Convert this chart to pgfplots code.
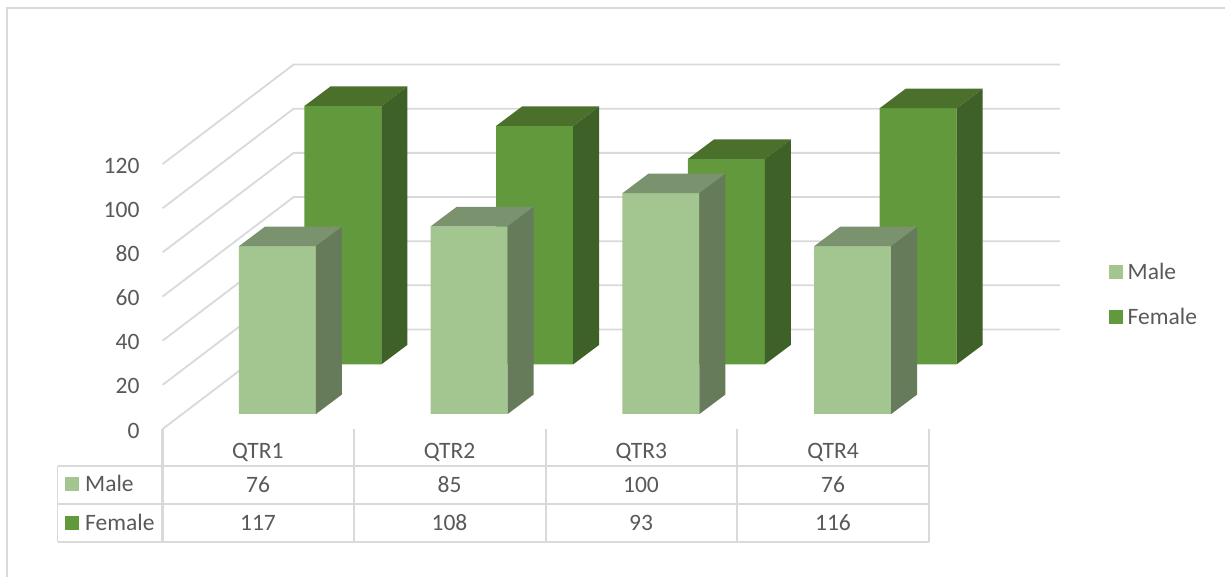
\documentclass[border=0pt]{standalone}
\usepackage{pgfplots}
\usepackage{pgfplotstable}
\usepackage{fontspec}
\setmainfont{Carlito}
\pgfplotsset{compat=1.18}
\definecolor{maleF}{HTML}{A3C58F}
\definecolor{maleS}{HTML}{657B5A}
\definecolor{maleT}{HTML}{7A926E}
\definecolor{femF}{HTML}{62993D}
\definecolor{femS}{HTML}{3E6127}
\definecolor{femT}{HTML}{4B702C}
\definecolor{gridc}{HTML}{D9D9D9}
\definecolor{txt}{HTML}{595959}
\newcommand{\chartfont}{\fontsize{23.5}{27}\selectfont}
\pgfplotstableread{
i male female
0 76 117
1 85 108
2 100 93
3 76 116
}\datatable
% side and top faces of a 3D bar: (#1 bar shift) drawn around the data point
\newcommand{\declarebox}[4]{%
  \pgfdeclareplotmark{#1}{%
    \pgfsetfillcolor{#3}%
    \pgfpathmoveto{\pgfpoint{#2pt-38.5pt}{0pt}}%
    \pgfpathlineto{\pgfpoint{#2pt+38.5pt}{0pt}}%
    \pgfpathlineto{\pgfpoint{#2pt+64.5pt}{19.5pt}}%
    \pgfpathlineto{\pgfpoint{#2pt-12.5pt}{19.5pt}}%
    \pgfpathclose\pgfusepathqfill
    \pgfsetfillcolor{#4}%
    \pgfpathmoveto{\pgfpoint{#2pt+38.5pt}{0pt}}%
    \pgfpathlineto{\pgfpoint{#2pt+64.5pt}{19.5pt}}%
    \pgfpathlineto{\pgfpoint{#2pt+64.5pt}{19.5pt-\barh pt}}%
    \pgfpathlineto{\pgfpoint{#2pt+38.5pt}{-\barh pt}}%
    \pgfpathclose\pgfusepathqfill
  }}
\declarebox{boxM}{19}{maleT}{maleS}
\declarebox{boxF}{84.5}{femT}{femS}
\pgfplotsset{
  base/.style={
    width=1225pt,height=577pt,scale only axis,at={(0pt,0pt)},anchor=south west,
    xmin=-1.34811,xmax=5.04042,
  },
  gl/.style={draw=gridc,line width=1.8pt,no markers,forget plot},
}
\begin{document}
\begin{tikzpicture}
\useasboundingbox (0,0) rectangle (1225pt,577pt);
% background: walls, grid, value axis, categories
\begin{axis}[base,ymin=-67.03,ymax=194.29,
  axis line style={draw=none},
  major tick length=0pt,
  ytick={0,20,...,120},
  xtick={0,1,2,3},
  xticklabels={QTR1,QTR2,QTR3,QTR4},
  /pgf/number format/assume math mode=true,
  tick label style={font=\chartfont,text=txt},
  yticklabel style={anchor=east,xshift=143pt,yshift=-1.5pt},
  xticklabel style={anchor=base,yshift=118pt,xshift=-0.7pt},
  legend image code/.code={\fill[#1] (0pt,-7pt) rectangle (14pt,7pt);},
  legend style={at={(1109pt,314pt)},anchor=north west,draw=none,fill=none,
    font=\chartfont,text=txt,row sep=27pt,inner sep=0pt,
    nodes={inner xsep=4.5pt,inner ysep=0pt}},
  legend cell align=left,
]
\addplot[gl] coordinates {(-0.5,0)(0.1832,45.06)(4.18,45.06)};
\addplot[gl] coordinates {(-0.5,20)(0.1832,65.06)(4.18,65.06)};
\addplot[gl] coordinates {(-0.5,40)(0.1832,85.06)(4.18,85.06)};
\addplot[gl] coordinates {(-0.5,60)(0.1832,105.06)(4.18,105.06)};
\addplot[gl] coordinates {(-0.5,80)(0.1832,125.06)(4.18,125.06)};
\addplot[gl] coordinates {(-0.5,100)(0.1832,145.06)(4.18,145.06)};
\addplot[gl] coordinates {(-0.5,120)(0.1832,165.06)(4.18,165.06)};
\addlegendimage{fill=maleF,draw=none}
\addlegendentry{Male}
\addlegendimage{fill=femF,draw=none}
\addlegendentry{Female}
\end{axis}
% Female series, rear row
\begin{axis}[base,hide axis,ymin=-96.33,ymax=164.99]
\addplot[ybar,bar width=77pt,bar shift=84.5pt,fill=femF,draw=none] table[x=i,y=female] {\datatable};
\addplot[only marks,scatter,point meta=y,mark=boxF,
  visualization depends on={\thisrow{female}*2.208 \as \barh}] table[x=i,y=female] {\datatable};
\end{axis}
% Male series, front row
\begin{axis}[base,hide axis,ymin=-73.82,ymax=187.5]
\addplot[ybar,bar width=77pt,bar shift=19pt,fill=maleF,draw=none] table[x=i,y=male] {\datatable};
\addplot[only marks,scatter,point meta=y,mark=boxM,
  visualization depends on={\thisrow{male}*2.208 \as \barh}] table[x=i,y=male] {\datatable};
\end{axis}
% data table and frame, in picture pixels
\begin{scope}[x=1pt,y=-1pt,yshift=577pt]
  \draw[gridc,line width=1.8pt] (7,577)--(7,8)--(1225,8);
  \draw[gridc,line width=1.8pt] (57.5,465.7)--(929,465.7) (57.5,504)--(929,504) (57.5,542.3)--(929,542.3);
  \draw[gridc,line width=1.8pt] (57.5,465.7)--(57.5,542.3);
  \draw[gridc,line width=2.4pt] (162.5,429)--(162.5,542.3);
  \foreach \x in {354,546,737,929} \draw[gridc,line width=1.8pt] (\x,429)--(\x,542.3);
  \fill[maleF] (65,477)rectangle(79,491);
  \fill[femF] (65,516)rectangle(79,530);
  \foreach \t/\y in {Male/492,Female/531}
    \node[anchor=base west,inner sep=0pt,font=\chartfont,text=txt] at (85,\y) {\t};
  \foreach \xc/\a/\b in {258/76/117,449.5/85/108,641/100/93,833/76/116}{
    \node[anchor=base,inner sep=0pt,font=\chartfont,text=txt] at (\xc,493) {\a};
    \node[anchor=base,inner sep=0pt,font=\chartfont,text=txt] at (\xc,531) {\b};
  }
\end{scope}
\end{tikzpicture}
\end{document}
